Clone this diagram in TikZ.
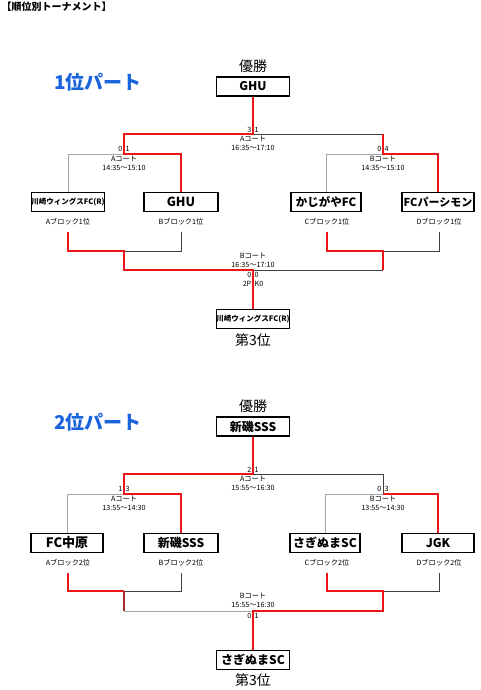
\documentclass[tikz,border=0pt]{standalone}
\usepackage{fontspec}
\setmainfont{Noto Sans CJK JP}
\definecolor{partblue}{RGB}{25,100,220}
\definecolor{winred}{RGB}{232,22,22}
\definecolor{darkred}{RGB}{170,40,50}
\newcommand\myfs[1]{\fontsize{#1}{#1}\selectfont}
\begin{document}
\begin{tikzpicture}[x=1pt,y=-1pt,
 team/.style={draw=black,line width=1.5pt,minimum height=19pt,inner sep=0pt,font=\bfseries\myfs{12}},
 win/.style={draw=winred,line width=1.9pt},
 dark/.style={draw=black!75,line width=0.7pt},
 lite/.style={draw=black!35,line width=0.8pt},
 lbl/.style={font=\myfs{7.2},inner sep=0pt},
 big/.style={font=\myfs{14},inner sep=0pt},
 ptitle/.style={font=\bfseries\myfs{19},text=partblue,inner sep=0pt}]
\useasboundingbox (0,0) rectangle (480,690);
\node[font=\bfseries\myfs{10},anchor=west,inner sep=0pt] (title) at (1.5,7) {【順位別トーナメント】};

% ================= PART 1 =================
\node[ptitle] (p1) at (98,82) {1位パート};
\node[big] (y1) at (253,66) {優勝};
\node[team,minimum width=73pt] (w1) at (253,86.5) {GHU};
\coordinate (f1) at (253,134); \coordinate (f1l) at (124,134); \coordinate (f1r) at (383,134);
\coordinate (s1l) at (124,154); \coordinate (s1r) at (383,154);
\node[team,minimum width=72pt,font=\bfseries\myfs{7.5}] (a1) at (68,202) {川崎ウィングスFC(R)};
\node[team,minimum width=74pt,font=\bfseries\myfs{12.5}] (b1) at (181,202) {GHU};
\node[team,minimum width=70pt,font=\bfseries\myfs{11.5}] (c1) at (326,202) {かじがやFC};
\node[team,minimum width=72pt,font=\bfseries\myfs{11}] (d1) at (438,202) {FCパーシモン};
\node[lbl] (la1) at (68,222) {Aブロック1位};
\node[lbl] (lb1) at (181,222) {Bブロック1位};
\node[lbl] (lc1) at (327,222) {Cブロック1位};
\node[lbl] (ld1) at (439,222) {Dブロック1位};
\coordinate (qa1) at (68,232); \coordinate (qb1) at (181,232);
\coordinate (qc1) at (327,232); \coordinate (qd1) at (439,232);
\coordinate (k1l) at (124,251); \coordinate (k1r) at (383,251);
\coordinate (k1) at (253,270); \coordinate (k1rr) at (383,270);
\node[team,minimum width=73pt,font=\bfseries\myfs{7.5}] (t1) at (253,319) {川崎ウィングスFC(R)};
\node[big] (th1) at (253,340) {第3位};
% lines
\draw[lite] (a1.north) |- (s1l);
\draw[lite] (c1.north) |- (s1r);
\draw[dark] (f1) -- (f1r);
\draw[dark] (qb1) |- (k1l);
\draw[dark] (qd1) |- (k1r);
\draw[dark] (k1) -- (k1rr);
\draw[win] (w1.south) -- (f1) -- (f1l) -- (s1l) -| (b1.north);
\draw[win] (f1r) -- (s1r) -| (d1.north);
\draw[win] (qa1) |- (k1l) |- (k1) -- (t1.north);
\draw[win] (qc1) |- (k1r) -- (k1rr);
% labels
\node[lbl,anchor=east] at (251.5,130) {3};
\node[lbl,anchor=west] at (254.5,130) {1};
\node[lbl] at (253,139) {Aコート};
\node[lbl] at (253,148) {16:35〜17:10};
\node[lbl,anchor=east] at (122.5,149) {0};
\node[lbl,anchor=west] at (125.5,149) {1};
\node[lbl] at (124,159) {Aコート};
\node[lbl] at (124,168) {14:35〜15:10};
\node[lbl,anchor=east] at (381.5,149) {0};
\node[lbl,anchor=west] at (384.5,149) {4};
\node[lbl] at (383,159) {Bコート};
\node[lbl] at (383,168) {14:35〜15:10};
\node[lbl] at (253,256) {Bコート};
\node[lbl] at (253,265) {16:35〜17:10};
\node[lbl,anchor=east] at (251.5,275) {0};
\node[lbl,anchor=west] at (254.5,275) {0};
\node[lbl,anchor=east] at (251.5,284) {2P};
\node[lbl,anchor=west] at (254.5,284) {K0};

% ================= PART 2 =================
\begin{scope}[shift={(0,340)}]
\node[ptitle] (p2) at (98,82) {2位パート};
\node[big] (y2) at (253,66) {優勝};
\node[team,minimum width=73pt] (w2) at (253,86.5) {新磯SSS};
\coordinate (f2) at (253,134); \coordinate (f2l) at (124,134); \coordinate (f2r) at (383,134);
\coordinate (s2l) at (124,154); \coordinate (s2r) at (383,154);
\node[team,minimum width=72pt,font=\bfseries\myfs{13}] (a2) at (67,203) {FC中原};
\node[team,minimum width=74pt] (b2) at (181,203) {新磯SSS};
\node[team,minimum width=70pt] (c2) at (325,203) {さぎぬまSC};
\node[team,minimum width=72pt] (d2) at (438,203) {JGK};
\node[lbl] (la2) at (68,223) {Aブロック2位};
\node[lbl] (lb2) at (181,223) {Bブロック2位};
\node[lbl] (lc2) at (327,223) {Cブロック2位};
\node[lbl] (ld2) at (439,223) {Dブロック2位};
\coordinate (qa2) at (68,233); \coordinate (qb2) at (181,233);
\coordinate (qc2) at (327,233); \coordinate (qd2) at (439,233);
\coordinate (k2l) at (124,251); \coordinate (k2r) at (383,251);
\coordinate (k2) at (253,271); \coordinate (k2a) at (124,271);
\node[team,minimum width=73pt] (t2) at (253,320) {さぎぬまSC};
\node[big] (th2) at (253,340) {第3位};
% lines
\draw[lite] (a2.north) |- (s2l);
\draw[lite] (c2.north) |- (s2r);
\draw[dark] (f2) -| (s2r);
\draw[dark] (qb2) |- (k2l);
\draw[dark] (qd2) |- (k2r);
\draw[lite] (k2a) -- (k2);
\draw[win] (w2.south) -- (f2) -- (f2l) -- (s2l) -| (b2.north);
\draw[win] (s2r) -| (d2.north);
\draw[win] (qa2) |- (k2l);
\draw[draw=darkred,line width=1.9pt] (k2l) -- (k2a);
\draw[win] (qc2) |- (k2r) |- (k2) -- (t2.north);
% labels
\node[lbl,anchor=east] at (251.5,130) {2};
\node[lbl,anchor=west] at (254.5,130) {1};
\node[lbl] at (253,139) {Aコート};
\node[lbl] at (253,148) {15:55〜16:30};
\node[lbl,anchor=east] at (122.5,149) {1};
\node[lbl,anchor=west] at (125.5,149) {3};
\node[lbl] at (124,159) {Aコート};
\node[lbl] at (124,168) {13:55〜14:30};
\node[lbl,anchor=east] at (381.5,149) {0};
\node[lbl,anchor=west] at (384.5,149) {3};
\node[lbl] at (383,159) {Bコート};
\node[lbl] at (383,168) {13:55〜14:30};
\node[lbl] at (253,256) {Bコート};
\node[lbl] at (253,265) {15:55〜16:30};
\node[lbl,anchor=east] at (251.5,276) {0};
\node[lbl,anchor=west] at (254.5,276) {1};
\end{scope}
\end{tikzpicture}
\end{document}
